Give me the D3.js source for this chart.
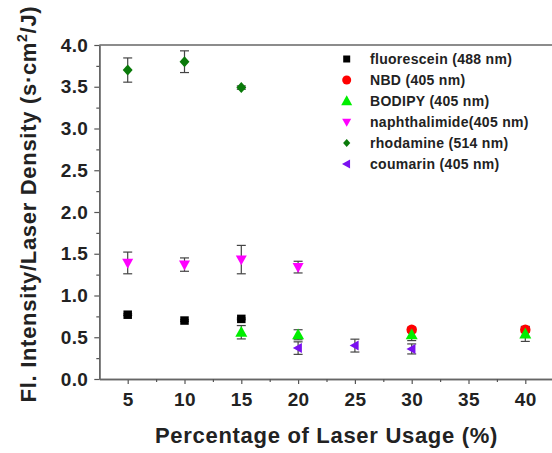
<!DOCTYPE html>
<html>
<head>
<meta charset="utf-8">
<style>
  body { margin: 0; background: #fff; }
  svg { display: block; font-family: "Liberation Sans", Arial, sans-serif; }
</style>
</head>
<body>
<svg id="chart" width="552" height="453"></svg>

<script src="https://d3js.org/d3.v7.min.js"></script>
<script>
  // values
  const xTicks = [5, 10, 15, 20, 25, 30, 35, 40]
  const yTicks = [0, 0.5, 1, 1.5, 2, 2.5, 3, 3.5, 4]

  const fluoresceinX = [5, 10, 15]
  const fluoresceinY = [0.77, 0.70, 0.72]
  const fluoresceinErr = [0.01, 0.01, 0.01]

  const nbdX = [30, 40]
  const nbdY = [0.59, 0.59]
  const nbdErr = [0.03, 0.03]

  const bodipyX = [15, 20, 30, 40]
  const bodipyY = [0.56, 0.53, 0.53, 0.54]
  const bodipyErr = [0.08, 0.06, 0.07, 0.09]

  const naphX = [5, 10, 15, 20]
  const naphY = [1.39, 1.37, 1.43, 1.34]
  const naphErr = [0.13, 0.08, 0.17, 0.07]

  const rhodX = [5, 10, 15]
  const rhodY = [3.70, 3.80, 3.49]
  const rhodErr = [0.145, 0.13, 0.02]

  const coumX = [20, 25, 30]
  const coumY = [0.37, 0.40, 0.36]
  const coumErr = [0.075, 0.077, 0.06]

  const seriesNames = ['fluorescein (488 nm)', 'NBD (405 nm)', 'BODIPY (405 nm)',
    'naphthalimide(405 nm)', 'rhodamine (514 nm)', 'coumarin (405 nm)']
  const seriesColors = ['#000000', '#ff0000', '#00ee00', '#ff00ff', '#0a7a0a', '#7a10f0']
  const seriesShapes = ['square', 'circle', 'up', 'down', 'diamond', 'left']

  const xs = [fluoresceinX, nbdX, bodipyX, naphX, rhodX, coumX]
  const ys = [fluoresceinY, nbdY, bodipyY, naphY, rhodY, coumY]
  const errs = [fluoresceinErr, nbdErr, bodipyErr, naphErr, rhodErr, coumErr]

  const series = seriesNames.map((name, i) => ({
    name,
    color: seriesColors[i],
    shape: seriesShapes[i],
    points: xs[i].map((x, j) => ({ x, y: ys[i][j], e: errs[i][j] }))
  }))

  const plotLeft = 99.3, plotRight = 553.7, plotTop = 45, plotBottom = 379

  const x = d3.scaleLinear().domain([2.5, 42.5]).range([plotLeft, plotRight])
  const y = d3.scaleLinear().domain([0, 4]).range([plotBottom, plotTop])

  const svg = d3.select('#chart')

  // marker path for each shape, s = nominal size in px
  function shapePath(shape, s) {
    const h = s / 2
    switch (shape) {
      case 'square': return `M${-h},${-h}H${h}V${h}H${-h}Z`
      case 'circle': return d3.symbol(d3.symbolCircle, Math.PI * h * h)()
      case 'diamond': return `M0,${-h}L${h * 0.9},0L0,${h}L${-h * 0.9},0Z`
      case 'up': return `M0,${-h * 1.05}L${h},${h * 0.75}L${-h},${h * 0.75}Z`
      case 'down': return `M0,${h * 1.05}L${h},${-h * 0.75}L${-h},${-h * 0.75}Z`
      case 'left': return `M${-h * 1.05},0L${h * 0.75},${-h}L${h * 0.75},${h}Z`
    }
  }
  const plotSize = { square: 8.5, circle: 10.5, diamond: 11, up: 12, down: 11, left: 10 }
  const legendSize = { square: 7, circle: 9, diamond: 8, up: 11, down: 9, left: 9 }

  // frame: top line
  svg.append('line')
    .attr('x1', plotLeft).attr('x2', plotRight)
    .attr('y1', plotTop).attr('y2', plotTop)
    .attr('stroke', '#666').attr('stroke-width', 1.5)

  // x axis
  svg.append('g')
    .attr('transform', `translate(0,${plotBottom})`)
    .call(d3.axisBottom(x).tickValues(xTicks).tickSize(5).tickPadding(9).tickSizeOuter(0))
  svg.append('g')
    .attr('transform', `translate(0,${plotBottom})`)
    .call(d3.axisBottom(x).tickValues(d3.range(7.5, 43, 5)).tickSize(3).tickFormat('').tickSizeOuter(0))

  // y axis
  svg.append('g')
    .attr('transform', `translate(${plotLeft},0)`)
    .call(d3.axisLeft(y).tickValues(yTicks).tickSize(5).tickPadding(6).tickFormat(d3.format('.1f')).tickSizeOuter(0))
  svg.append('g')
    .attr('transform', `translate(${plotLeft},0)`)
    .call(d3.axisLeft(y).tickValues(d3.range(0.25, 4, 0.5)).tickSize(3).tickFormat('').tickSizeOuter(0))

  svg.selectAll('.domain').attr('stroke', '#666').attr('stroke-width', 1.5)
  svg.selectAll('.tick line').attr('stroke', '#555').attr('stroke-width', 1.2)
  svg.selectAll('.tick text')
    .attr('fill', '#222')
    .style('font-size', '19px')
    .style('font-weight', 'bold')
    .style('letter-spacing', '0.4px')
    .style('font-family', '"Liberation Sans", Arial, sans-serif')

  // axis titles
  svg.append('text')
    .attr('x', (plotLeft + plotRight) / 2)
    .attr('y', 443)
    .attr('text-anchor', 'middle')
    .attr('fill', '#222')
    .style('font-size', '22px')
    .style('font-weight', 'bold')
    .style('letter-spacing', '0.7px')
    .text('Percentage of Laser Usage (%)')

  const yTitle = svg.append('text')
    .attr('transform', 'translate(36,204) rotate(-90)')
    .attr('text-anchor', 'middle')
    .attr('fill', '#222')
    .style('font-size', '22px')
    .style('font-weight', 'bold')
    .style('letter-spacing', '0.7px')
  yTitle.append('tspan').text('Fl. Intensity/Laser Density (s\u00b7cm')
  yTitle.append('tspan').attr('dy', -9).style('font-size', '14px').text('2')
  yTitle.append('tspan').attr('dy', 9).text('/J)')

  // error bars and markers
  const cap = 4.5
  series.forEach(s => {
    const eb = svg.append('g').selectAll('g')
      .data(s.points)
      .enter()
      .append('g')
      .attr('stroke', '#444')
      .attr('stroke-width', 1.2)
    eb.append('line')
      .attr('x1', d => x(d.x)).attr('x2', d => x(d.x))
      .attr('y1', d => y(d.y + d.e)).attr('y2', d => y(d.y - d.e))
    eb.append('line')
      .attr('x1', d => x(d.x) - cap).attr('x2', d => x(d.x) + cap)
      .attr('y1', d => y(d.y + d.e)).attr('y2', d => y(d.y + d.e))
    eb.append('line')
      .attr('x1', d => x(d.x) - cap).attr('x2', d => x(d.x) + cap)
      .attr('y1', d => y(d.y - d.e)).attr('y2', d => y(d.y - d.e))
  })
  series.forEach(s => {
    svg.append('g')
      .selectAll('path')
      .data(s.points)
      .enter()
      .append('path')
      .attr('d', shapePath(s.shape, plotSize[s.shape]))
      .attr('transform', d => `translate(${x(d.x)},${y(d.y)})`)
      .attr('fill', s.color)
  })

  // legend
  const legend = svg.append('g')
  const rowY = d3.scaleLinear().domain([0, 5]).range([59, 164])
  series.forEach((s, i) => {
    legend.append('path')
      .attr('d', shapePath(s.shape, legendSize[s.shape]))
      .attr('transform', `translate(346.7,${rowY(i)})`)
      .attr('fill', s.color)
    legend.append('text')
      .attr('x', 370)
      .attr('y', rowY(i))
      .attr('dy', '0.35em')
      .attr('fill', '#222')
      .style('font-size', '14px')
      .style('font-weight', 'bold')
      .style('letter-spacing', '0.3px')
      .text(s.name)
  })
</script>
</body>
</html>
